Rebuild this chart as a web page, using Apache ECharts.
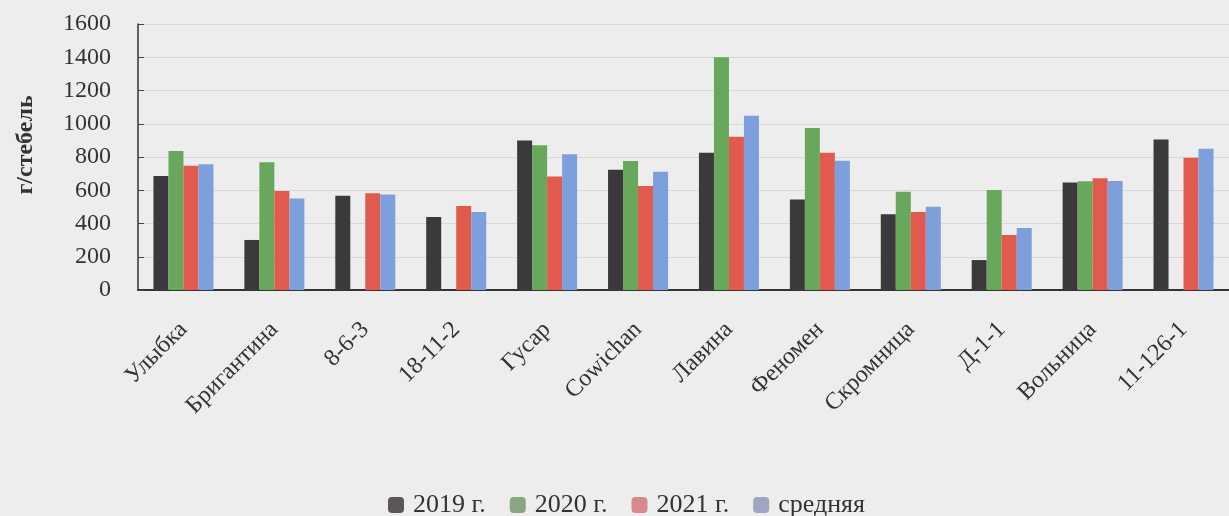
<!DOCTYPE html>
<html>
<head>
<meta charset="utf-8">
<script src="https://cdn.jsdelivr.net/npm/echarts@6/dist/echarts.min.js"></script>
<style>
html,body{margin:0;padding:0;background:#ededed;}
#c{width:1229px;height:516px;}
</style>
</head>
<body>
<div id="c"></div>
<script>
const categories = ['Улыбка','Бригантина','8-6-3','18-11-2','Гусар','Cowichan','Лавина','Феномен','Скромница','Д-1-1','Вольница','11-126-1'];
const seriesNames = ['2019 г.','2020 г.','2021 г.','средняя'];
const v2019 = [686, 301, 567, 439, 900, 724, 826, 545, 455, 180, 646, 906];
const v2020 = [836, 768, null, null, 870, 776, 1400, 974, 591, 601, 654, null];
const v2021 = [748, 595, 582, 505, 682, 626, 922, 826, 469, 331, 672, 796];
const vAvg  = [756, 551, 575, 469, 816, 712, 1048, 778, 501, 373, 656, 850];
const yTicks = [0, 200, 400, 600, 800, 1000, 1200, 1400, 1600];

const barColors = ['#3c393c', '#69a75c', '#e05b4d', '#7d9fdb'];
const legendColors = ['#5b565a', '#8ca683', '#d68a8b', '#a0a5c2'];
const font = '"Liberation Serif", "DejaVu Serif", serif';
const textColor = '#333';

const chart = echarts.init(document.getElementById('c'), null, {renderer: 'canvas'});
const dataSets = [v2019, v2020, v2021, vAvg];
chart.setOption({
  backgroundColor: '#ededed',
  animation: false,
  textStyle: {fontFamily: font},
  legend: {
    left: 383,
    top: 487,
    itemWidth: 16,
    itemHeight: 16,
    itemGap: 24,
    icon: 'roundRect',
    textStyle: {fontFamily: font, fontSize: 26, color: textColor, padding: [0,0,0,4]},
    data: seriesNames.map((n, i) => ({name: n, itemStyle: {color: legendColors[i]}}))
  },
  grid: {left: 138, right: 0, top: 24, bottom: 226},
  xAxis: {
    type: 'category',
    data: categories,
    axisLine: {lineStyle: {color: '#333', width: 2}},
    axisTick: {inside: true, length: 6, lineStyle: {color: '#333', width: 2}},
    axisLabel: {rotate: 45, margin: 36, fontFamily: font, fontSize: 24, color: textColor, interval: 0}
  },
  yAxis: {
    type: 'value',
    min: yTicks[0],
    max: yTicks[yTicks.length - 1],
    interval: yTicks[1] - yTicks[0],
    name: 'г/стебель',
    nameLocation: 'middle',
    nameRotate: 90,
    nameGap: 100,
    nameTextStyle: {fontFamily: font, fontSize: 24, fontWeight: 'bold', color: textColor, padding: [0,0,0,24]},
    axisLine: {show: true, lineStyle: {color: '#333', width: 1.5}},
    axisTick: {show: true, inside: true, length: 6, lineStyle: {color: '#444'}},
    axisLabel: {margin: 27, fontFamily: font, fontSize: 24, color: textColor, formatter: v => String(v)},
    splitLine: {lineStyle: {color: '#d8d8d8', width: 1}}
  },
  series: seriesNames.map((n, i) => ({
    name: n,
    type: 'bar',
    data: dataSets[i],
    barGap: '0%',
    barCategoryGap: '34%',
    itemStyle: {color: barColors[i]}
  }))
});
</script>
</body>
</html>
